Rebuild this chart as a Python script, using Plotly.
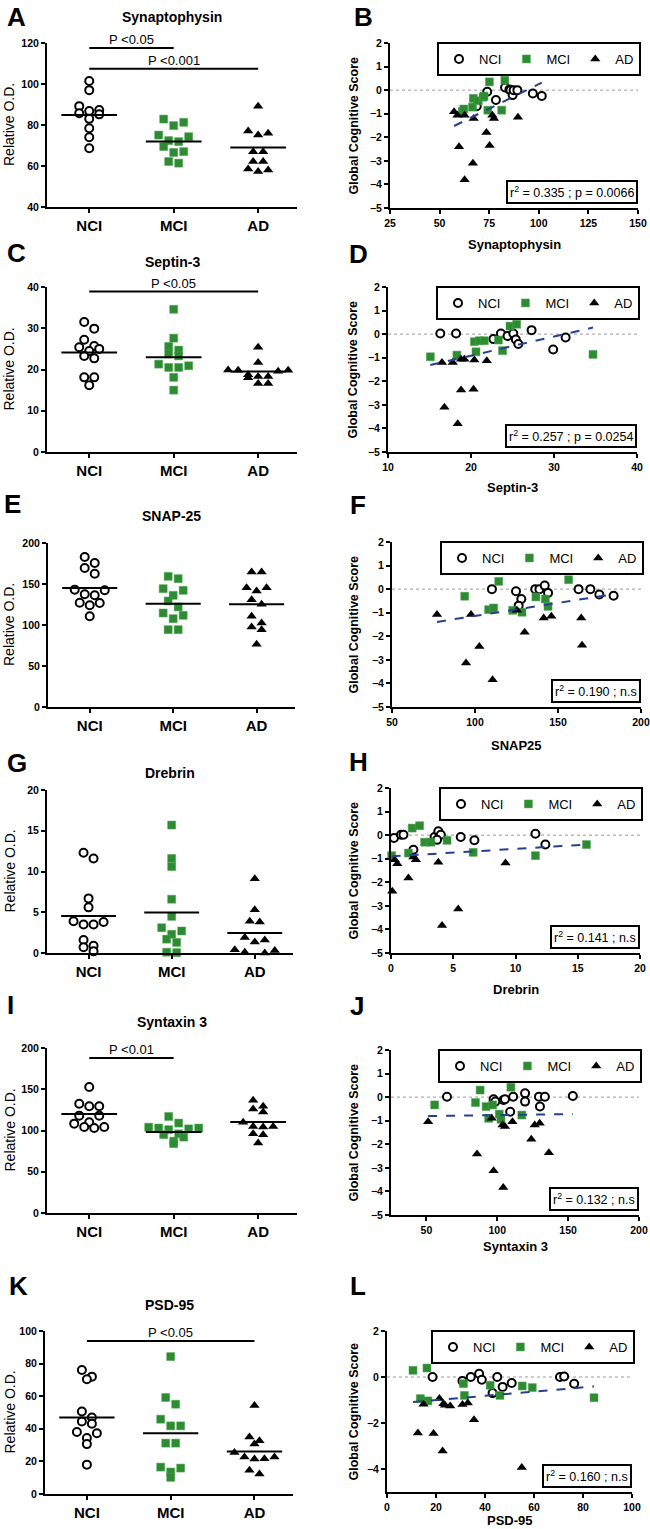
import numpy as np
import plotly.graph_objects as go

W, H = 650, 1529
FONT = "Liberation Sans, Arial, sans-serif"
GREEN = "#2e8b34"
BLUE = "#26408f"
GROUPS = ["NCI", "MCI", "AD"]

# ---------------- DATA ----------------
# A  Synaptophysin (Relative O.D.)
syn_nci = [101.5, 97.0, 89.2, 87.3, 86.8, 85.7, 85.2, 83.0, 78.4, 74.0, 68.7]
syn_mci = [82.9, 81.3, 79.7, 75.1, 74.3, 72.4, 71.9, 69.5, 67.0, 66.6, 62.2, 61.4]
syn_ad = [89.2, 77.1, 76.0, 75.1, 67.0, 67.0, 62.2, 62.2, 58.5, 58.1, 57.3]
syn_means = [84.9, 71.9, 69.0]
syn_sig = [(0, 1, 117.6, "P <0.05"), (0, 2, 107.5, "P <0.001")]

# B  Global cognitive score vs Synaptophysin
synB_nci_x = [68.7, 74.0, 78.4, 83.0, 85.2, 85.7, 86.8, 87.3, 89.2, 97.0, 101.5]
synB_nci_y = [-0.68, -0.07, -0.42, 0.11, 0.03, 0.0, -0.21, 0.0, 0.0, -0.14, -0.25]
synB_mci_x = [61.4, 62.2, 66.6, 67.0, 69.5, 71.9, 72.4, 74.3, 75.1, 81.3, 82.9]
synB_mci_y = [-0.9, -0.8, -0.72, -0.35, -0.45, -0.3, -0.25, -0.85, 0.35, -0.85, 0.42]
synB_ad_x = [57.3, 59.0, 62.6, 67.2, 76.6, 77.4, 89.5, 73.6, 75.2, 59.8, 66.8, 62.6]
synB_ad_y = [-0.92, -1.06, -1.06, -1.2, -1.06, -1.2, -1.15, -1.8, -2.35, -2.4, -3.1, -3.8]
synB_fit = (0.0416, -3.904)
synB_stat = "r<sup>2</sup> = 0.335 ; p = 0.0066"

# C  Septin-3
sep_nci = [31.5, 29.9, 27.2, 25.7, 25.4, 25.0, 24.5, 23.3, 22.7, 18.1, 18.1, 16.2]
sep_mci = [34.6, 27.6, 25.6, 24.7, 23.8, 23.3, 21.3, 20.9, 20.5, 20.5, 18.1, 15.0]
sep_ad = [25.4, 21.7, 19.9, 19.8, 19.6, 19.8, 18.3, 18.0, 18.3, 18.7, 16.6, 16.6]
sep_means = [24.1, 23.0, 19.5]
sep_sig = [(0, 2, 38.9, "P <0.05")]

# D
sepD_nci_x = [16.3, 18.2, 23.6, 22.7, 24.4, 25.1, 25.4, 25.7, 27.3, 29.9, 31.4]
sepD_nci_y = [0.03, 0.03, 0.03, -0.21, -0.08, 0.03, -0.23, -0.42, 0.17, -0.65, -0.14]
sepD_mci_x = [15.1, 18.3, 20.4, 21.0, 21.6, 20.6, 23.3, 23.8, 24.7, 25.5, 34.7]
sepD_mci_y = [-0.96, -0.89, -0.32, -0.28, -0.28, -0.75, -0.25, -0.7, 0.34, 0.42, -0.86]
sepD_ad_x = [16.5, 17.8, 18.8, 19.2, 20.4, 21.9, 18.8, 20.3, 16.8, 18.4]
sepD_ad_y = [-1.2, -1.2, -1.06, -1.06, -1.1, -1.13, -2.37, -2.34, -3.1, -3.8]
sepD_fit = (0.0811, -2.535)
sepD_stat = "r<sup>2</sup> = 0.257 ; p = 0.0254"

# E  SNAP-25
snap_nci = [182.9, 175.6, 169.5, 162.6, 143.1, 142.3, 137.4, 136.2, 127.2, 126.8, 124.0, 110.6]
snap_mci = [159.3, 156.5, 144.3, 142.3, 136.2, 129.3, 122.0, 114.6, 111.8, 107.7, 94.3, 94.3]
snap_ad = [164.6, 164.6, 145.5, 145.5, 141.5, 130.9, 125.2, 110.6, 102.4, 97.6, 94.3, 76.4]
snap_means = [145.1, 126.0, 125.2]
snap_sig = []

# F
snapF_nci_x = [110.2, 124.7, 127.9, 126.3, 136.3, 138.8, 142.0, 144.0, 162.4, 169.5, 174.9, 183.5]
snapF_nci_y = [0.0, -0.09, -0.42, -0.7, 0.0, 0.0, 0.15, -0.16, 0.0, 0.0, -0.23, -0.28]
snapF_mci_x = [93.8, 114.3, 108.2, 111.2, 122.7, 128.3, 136.7, 142.4, 144.0, 156.4]
snapF_mci_y = [-0.3, 0.33, -0.87, -0.8, -0.9, -0.98, -0.33, -0.42, -0.73, 0.4]
snapF_ad_x = [77.1, 97.6, 102.6, 94.6, 110.6, 125.3, 129.9, 141.4, 146.0, 164.0, 164.5]
snapF_ad_y = [-1.08, -1.08, -2.43, -3.13, -3.84, -0.9, -1.83, -1.22, -1.15, -1.22, -2.38]
snapF_fit = (0.01104, -2.241)
snapF_stat = "r<sup>2</sup> = 0.190 ; n.s"

# G  Drebrin
dre_nci = [12.3, 11.6, 6.7, 5.6, 3.9, 3.8, 3.5, 3.5, 1.6, 0.9, 0.7, 0.2]
dre_mci = [15.7, 11.6, 10.6, 6.6, 4.5, 3.1, 2.7, 2.3, 1.7, 1.3, 0.1, 0.05]
dre_ad = [9.1, 5.3, 3.9, 3.8, 1.9, 1.6, 1.35, 0.4, 0.3, 0.1, 0.0, -0.1]
dre_means = [4.55, 4.96, 2.46]
dre_sig = []

# H
dreH_nci_x = [0.24, 0.8, 1.0, 1.8, 3.5, 3.8, 4.0, 3.7, 5.6, 6.7, 11.6, 12.4]
dreH_nci_y = [-0.12, 0.02, 0.02, -0.62, -0.08, 0.16, 0.02, -0.2, -0.08, -0.22, 0.06, -0.4]
dreH_mci_x = [0.05, 1.7, 2.3, 1.4, 2.7, 3.2, 4.5, 6.6, 11.6, 15.7]
dreH_mci_y = [-0.87, 0.3, 0.4, -0.76, -0.3, -0.3, -0.22, -0.73, -0.87, -0.4]
dreH_ad_x = [0.1, 0.3, 0.5, 1.8, 2.0, 1.4, 3.8, 4.1, 5.4, 9.2]
dreH_ad_y = [-2.38, -1.04, -1.21, -0.93, -1.04, -1.82, -1.15, -3.83, -3.13, -1.18]
dreH_fit = (0.032, -0.902)
dreH_stat = "r<sup>2</sup> = 0.141 ; n.s"

# I  Syntaxin 3
stx_nci = [152.7, 132.5, 129.3, 129.3, 118.0, 118.0, 109.9, 108.3, 104.2, 104.2, 103.0]
stx_mci = [117.0, 109.0, 104.0, 103.0, 103.0, 102.0, 101.0, 96.0, 95.0, 92.0, 87.0, 84.0]
stx_ad = [136.6, 129.3, 126.0, 122.4, 109.9, 105.0, 105.0, 104.2, 96.2, 95.0, 84.8]
stx_means = [120.0, 98.2, 110.3]
stx_sig = [(0, 1, 187.9, "P <0.01")]

# J
stxJ_nci_x = [64.5, 97.4, 98.6, 104.4, 105.4, 111.2, 109.1, 119.6, 119.6, 129.4, 130.1, 133.6, 153.3]
stxJ_nci_y = [0.02, -0.09, -0.19, -0.12, -0.09, 0.02, -0.62, 0.16, -0.19, 0.02, -0.4, 0.02, 0.05]
stxJ_mci_x = [55.8, 84.6, 87.9, 92.1, 96.7, 93.9, 101.4, 102.6, 109.6, 117.3]
stxJ_mci_y = [-0.33, -0.23, 0.3, -0.4, -0.33, -0.9, -0.72, -0.94, 0.42, -0.76]
stxJ_ad_x = [51.2, 85.7, 96.0, 97.4, 103.7, 105.4, 110.7, 104.2, 124.0, 126.4, 129.9, 136.4]
stxJ_ad_y = [-1.04, -2.41, -0.9, -3.12, -1.18, -1.25, -1.04, -3.83, -1.79, -1.18, -1.11, -2.36]
stxJ_fit = (0.00078, -0.84)
stxJ_stat = "r<sup>2</sup> = 0.132 ; n.s"

# K  PSD-95
psd_nci = [76.1, 72.0, 70.4, 50.6, 46.9, 44.5, 43.1, 38.0, 37.3, 34.3, 30.6, 18.0]
psd_mci = [84.3, 59.2, 55.1, 45.9, 41.8, 41.8, 31.2, 31.2, 16.5, 15.9, 13.5, 10.2]
psd_ad = [54.3, 34.9, 32.7, 30.6, 25.5, 22.7, 22.7, 21.6, 21.4, 14.5, 12.2]
psd_means = [46.9, 37.3, 26.1]
psd_sig = [(0, 2, 93.9, "P <0.05")]

# L
psdL_nci_x = [18.6, 30.8, 34.2, 37.6, 38.7, 43.1, 45.0, 47.2, 50.9, 70.6, 72.3, 76.4]
psdL_nci_y = [0.0, -0.17, 0.0, 0.14, -0.12, -0.7, 0.0, -0.43, -0.26, 0.0, 0.02, -0.29]
psdL_mci_x = [10.6, 16.3, 13.6, 16.7, 31.2, 31.6, 42.1, 46.1, 55.2, 59.3, 84.5]
psdL_mci_y = [0.29, 0.39, -0.94, -1.04, -0.29, -0.8, -0.36, -0.8, -0.39, -0.46, -0.9]
psdL_ad_x = [12.6, 14.9, 19.0, 21.4, 22.7, 23.0, 23.7, 25.8, 30.8, 33.0, 35.5, 55.0]
psdL_ad_y = [-2.43, -1.19, -2.46, -0.94, -3.22, -1.16, -1.23, -1.26, -1.2, -1.13, -1.86, -3.94]
psdL_fit = (0.00918, -1.186)
psdL_stat = "r<sup>2</sup> = 0.160 ; n.s"

# ---------------- PANEL LAYOUT ----------------
dot_panels = [
    dict(letter="A", title="Synaptophysin", vals=[syn_nci, syn_mci, syn_ad], means=syn_means, sig=syn_sig,
         box=(47, 43, 297, 207), yr=[40, 120], dtick=20, title_y=17, lpos=(5, 17)),
    dict(letter="C", title="Septin-3", vals=[sep_nci, sep_mci, sep_ad], means=sep_means, sig=sep_sig,
         box=(47, 287, 297, 452), yr=[0, 40], dtick=10, title_y=262, lpos=(5, 253)),
    dict(letter="E", title="SNAP-25", vals=[snap_nci, snap_mci, snap_ad], means=snap_means, sig=snap_sig,
         box=(48, 543, 295, 707), yr=[0, 200], dtick=50, title_y=516, lpos=(2, 504)),
    dict(letter="G", title="Drebrin", vals=[dre_nci, dre_mci, dre_ad], means=dre_means, sig=dre_sig,
         box=(47, 790, 293, 953), yr=[0, 20], dtick=5, title_y=773, lpos=(5, 763)),
    dict(letter="I", title="Syntaxin 3", vals=[stx_nci, stx_mci, stx_ad], means=stx_means, sig=stx_sig,
         box=(47, 1048, 297, 1213), yr=[0, 200], dtick=50, title_y=1022, lpos=(5, 1005)),
    dict(letter="K", title="PSD-95", vals=[psd_nci, psd_mci, psd_ad], means=psd_means, sig=psd_sig,
         box=(45, 1331, 293, 1494), yr=[0, 100], dtick=20, title_y=1305, lpos=(7, 1286)),
]

scatter_panels = [
    dict(letter="B", xlabel="Synaptophysin",
         pts=[(synB_nci_x, synB_nci_y), (synB_mci_x, synB_mci_y), (synB_ad_x, synB_ad_y)],
         fit=synB_fit, stat=synB_stat, box=(390, 43, 638, 208), xr=[25, 150],
         xt=[25, 50, 75, 100, 125, 150], yt=[2, 1, 0, -1, -2, -3, -4, -5], xlabel_y=245, lpos=(352, 17)),
    dict(letter="D", xlabel="Septin-3",
         pts=[(sepD_nci_x, sepD_nci_y), (sepD_mci_x, sepD_mci_y), (sepD_ad_x, sepD_ad_y)],
         fit=sepD_fit, stat=sepD_stat, box=(388, 287, 637, 452), xr=[10, 40],
         xt=[10, 20, 30, 40], yt=[2, 1, 0, -1, -2, -3, -4, -5], xlabel_y=487, lpos=(347, 254)),
    dict(letter="F", xlabel="SNAP25",
         pts=[(snapF_nci_x, snapF_nci_y), (snapF_mci_x, snapF_mci_y), (snapF_ad_x, snapF_ad_y)],
         fit=snapF_fit, stat=snapF_stat, box=(392, 542, 641, 707), xr=[50, 200],
         xt=[50, 100, 150, 200], yt=[2, 1, 0, -1, -2, -3, -4, -5], xlabel_y=745, lpos=(348, 505)),
    dict(letter="H", xlabel="Drebrin",
         pts=[(dreH_nci_x, dreH_nci_y), (dreH_mci_x, dreH_mci_y), (dreH_ad_x, dreH_ad_y)],
         fit=dreH_fit, stat=dreH_stat, box=(391, 788, 640, 953), xr=[0, 20],
         xt=[0, 5, 10, 15, 20], yt=[2, 1, 0, -1, -2, -3, -4, -5], xlabel_y=989, lpos=(347, 762)),
    dict(letter="J", xlabel="Syntaxin 3",
         pts=[(stxJ_nci_x, stxJ_nci_y), (stxJ_mci_x, stxJ_mci_y), (stxJ_ad_x, stxJ_ad_y)],
         fit=stxJ_fit, stat=stxJ_stat, box=(391, 1050, 639, 1215), xr=[25, 200],
         xt=[50, 100, 150, 200], yt=[2, 1, 0, -1, -2, -3, -4, -5], xlabel_y=1246, lpos=(348, 1006)),
    dict(letter="L", xlabel="PSD-95",
         pts=[(psdL_nci_x, psdL_nci_y), (psdL_mci_x, psdL_mci_y), (psdL_ad_x, psdL_ad_y)],
         fit=psdL_fit, stat=psdL_stat, box=(387, 1331, 632, 1492), xr=[0, 100],
         xt=[0, 20, 40, 60, 80, 100], yt=[2, 0, -2, -4], xlabel_y=1520, lpos=(348, 1286)),
]

MARKERS = [
    dict(symbol="circle", size=8, color="white", line=dict(color="black", width=2)),
    dict(symbol="square", size=8, color=GREEN, line=dict(color="#4fa84f", width=0.5)),
    dict(symbol="triangle-up", size=9, color="black", line=dict(color="black", width=0)),
]

XR_CAT = [-0.5, 2.46]


def px(x):
    return x / W


def py(y):
    return 1 - y / H


def row_swarm(vals, ppx, ppy, thresh=7.0, step=10.0):
    """GraphPad-like scatter: values closer than `thresh` px share a row, spread horizontally."""
    vals = np.asarray(vals, dtype=float)
    order = list(np.argsort(-vals, kind="stable"))
    offs = np.zeros(len(vals))
    rows = []
    for i in order:
        if rows and (vals[rows[-1][0]] - vals[i]) * ppy < thresh:
            rows[-1].append(i)
        else:
            rows.append([i])
    for row in rows:
        n = len(row)
        pos = [(j - (n - 1) / 2) * step for j in range(n)]
        pos_sorted = sorted(pos, key=lambda v: (-abs(v), v))
        for idx, pv in zip(row, pos_sorted):
            offs[idx] = pv / ppx
    return offs


def paper_text(x, y, text, size, angle=0, xanchor="center", bold=False):
    return dict(x=px(x), y=py(y), xref="paper", yref="paper", xanchor=xanchor, yanchor="middle",
                text=f"<b>{text}</b>" if bold else text, textangle=angle, showarrow=False,
                font=dict(size=size, family=FONT, color="black"))


fig = go.Figure()
layout = dict(width=W, height=H, margin=dict(l=0, r=0, t=0, b=0, pad=0, autoexpand=False),
              paper_bgcolor="white", plot_bgcolor="white", template="none",
              font=dict(family=FONT, color="black"), showlegend=True)
annotations = []
shapes = []

AXIS_COMMON = dict(showline=True, linecolor="black", linewidth=2, ticks="outside", ticklen=4,
                   tickwidth=2, tickcolor="black", showgrid=False, zeroline=False, automargin=False,
                   tickfont=dict(family=FONT, size=10.5, color="black", weight="bold"))

# ---- dot plots (odd axes) ----
for k, p in enumerate(dot_panels):
    n = 2 * k + 1
    x0, y0, x1, y1 = p["box"]
    xa = f"x{n}"
    ya = f"y{n}"
    ppx = (x1 - x0) / (XR_CAT[1] - XR_CAT[0])
    ppy = (y1 - y0) / (p["yr"][1] - p["yr"][0])
    for g, vals in enumerate(p["vals"]):
        offs = row_swarm(vals, ppx, ppy)
        fig.add_trace(go.Scatter(x=g + offs, y=vals, mode="markers", marker=MARKERS[g],
                                 xaxis=xa, yaxis=ya, showlegend=False, cliponaxis=False,
                                 name=GROUPS[g]))
        m = p["means"][g]
        fig.add_trace(go.Scatter(x=[g - 0.33, g + 0.33], y=[m, m], mode="lines",
                                 line=dict(color="black", width=2), xaxis=xa, yaxis=ya,
                                 showlegend=False, cliponaxis=False, hoverinfo="skip"))
    for (i, j, yv, lab) in p["sig"]:
        fig.add_trace(go.Scatter(x=[i, j], y=[yv, yv], mode="lines",
                                 line=dict(color="black", width=2), xaxis=xa, yaxis=ya,
                                 showlegend=False, cliponaxis=False, hoverinfo="skip"))
        annotations.append(dict(x=(i + j) / 2, y=yv, xref=xa, yref=ya, text=lab, showarrow=False,
                                xanchor="center", yanchor="bottom", yshift=-1,
                                font=dict(size=13, family=FONT, color="black")))
    layout[f"xaxis{n}"] = dict(AXIS_COMMON, domain=[px(x0), px(x1)], anchor=ya, range=XR_CAT,
                               tickvals=[0, 1, 2], ticktext=GROUPS,
                               tickfont=dict(family=FONT, size=15, color="black", weight="bold"))
    layout[f"yaxis{n}"] = dict(AXIS_COMMON, domain=[py(y1), py(y0)], anchor=xa, range=p["yr"],
                               dtick=p["dtick"], tick0=0)
    annotations.append(paper_text((x0 + x1) / 2, p["title_y"], p["title"], 14, bold=True))
    annotations.append(paper_text(p["lpos"][0], p["lpos"][1], p["letter"], 26, xanchor="left", bold=True))
    annotations.append(paper_text(9, (y0 + y1) / 2, "Relative O.D.", 14, angle=-90))

# ---- scatter plots (even axes) ----
for k, p in enumerate(scatter_panels):
    n = 2 * k + 2
    x0, y0, x1, y1 = p["box"]
    xa = f"x{n}"
    ya = f"y{n}"
    leg = "legend" if k == 0 else f"legend{k + 1}"
    shapes.append(dict(type="line", xref=f"{xa} domain", yref=ya, x0=0, x1=1, y0=0, y1=0,
                       line=dict(color="#999999", width=1, dash="dot"), layer="below"))
    allx = []
    for g, (xs, ys) in enumerate(p["pts"]):
        allx += list(xs)
        fig.add_trace(go.Scatter(x=xs, y=ys, mode="markers", marker=MARKERS[g], name=GROUPS[g],
                                 xaxis=xa, yaxis=ya, legend=leg, showlegend=True, cliponaxis=False))
    slope, icpt = p["fit"]
    fx = np.array([min(allx), max(allx)])
    fig.add_trace(go.Scatter(x=fx, y=slope * fx + icpt, mode="lines",
                             line=dict(color=BLUE, width=2, dash="dash"), xaxis=xa, yaxis=ya,
                             showlegend=False, hoverinfo="skip"))
    layout[f"xaxis{n}"] = dict(AXIS_COMMON, domain=[px(x0), px(x1)], anchor=ya, range=p["xr"],
                               tickvals=p["xt"])
    layout[f"yaxis{n}"] = dict(AXIS_COMMON, domain=[py(y1), py(y0)], anchor=xa, range=[-5, 2],
                               tickvals=p["yt"])
    layout[leg] = dict(x=px(x1 + 3), xanchor="right", y=py(y0 - 1), yanchor="top", orientation="h",
                       bordercolor="black", borderwidth=2, bgcolor="white",
                       font=dict(size=13, family=FONT, color="black"), itemwidth=30,
                       traceorder="normal")
    annotations.append(dict(x=1, y=4 / (y1 - y0), xref=f"{xa} domain", yref=f"{ya} domain",
                            xanchor="right", yanchor="bottom", text=p["stat"], showarrow=False,
                            bordercolor="black", borderwidth=2, borderpad=2, bgcolor="white",
                            font=dict(size=12.5, family=FONT, color="black")))
    annotations.append(paper_text((x0 + x1) / 2, p["xlabel_y"], p["xlabel"], 13, bold=True))
    annotations.append(paper_text(p["lpos"][0], p["lpos"][1], p["letter"], 26, xanchor="left", bold=True))
    annotations.append(paper_text(353, (y0 + y1) / 2, "Global Cognitive Score", 12.5, angle=-90, bold=True))

layout["annotations"] = annotations
layout["shapes"] = shapes
fig.update_layout(**layout)
fig.write_html("out.html", config={"displayModeBar": False},
               post_script="document.body.style.margin='0px';document.body.style.overflow='hidden';")
